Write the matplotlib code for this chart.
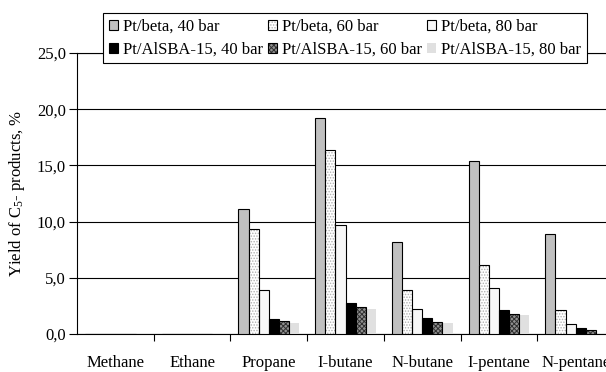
import numpy as np
import matplotlib
matplotlib.use('Agg')
import matplotlib.pyplot as plt
from matplotlib.patches import Patch

plt.rcParams['font.family'] = ['Liberation Serif', 'DejaVu Serif']
plt.rcParams['mathtext.fontset'] = 'custom'
plt.rcParams['mathtext.rm'] = 'Liberation Serif'
plt.rcParams['mathtext.it'] = 'Liberation Serif'
plt.rcParams['font.size'] = 12
plt.rcParams['hatch.linewidth'] = 0.7

# data
products = ['Methane', 'Ethane', 'Propane', 'I-butane', 'N-butane', 'I-pentane', 'N-pentane']
beta_40 = [0.0, 0.0, 11.1, 19.2, 8.2, 15.4, 8.9]
beta_60 = [0.0, 0.0, 9.3, 16.4, 3.9, 6.1, 2.1]
beta_80 = [0.0, 0.0, 3.9, 9.7, 2.2, 4.1, 0.9]
alsba_40 = [0.0, 0.0, 1.3, 2.8, 1.4, 2.1, 0.5]
alsba_60 = [0.0, 0.0, 1.2, 2.4, 1.1, 1.8, 0.4]
alsba_80 = [0.0, 0.0, 1.0, 2.2, 1.0, 1.7, 0.1]

series = [
    ('Pt/beta, 40 bar', beta_40, dict(facecolor='#c0c0c0', edgecolor='black')),
    ('Pt/beta, 60 bar', beta_60, dict(facecolor='white', edgecolor='#b0b0b0', hatch='......')),
    ('Pt/beta, 80 bar', beta_80, dict(facecolor='#f7f7f7', edgecolor='black')),
    ('Pt/AlSBA-15, 40 bar', alsba_40, dict(facecolor='black', edgecolor='black')),
    ('Pt/AlSBA-15, 60 bar', alsba_60, dict(facecolor='#909090', edgecolor='#303030', hatch='xxxxxxx')),
    ('Pt/AlSBA-15, 80 bar', alsba_80, dict(facecolor='#e0e0e0', edgecolor='none')),
]

fig = plt.figure(figsize=(6.06, 3.72), dpi=100)
ax = fig.add_axes([77/606, 38/372, 537/606, 281/372])

x = np.arange(len(products))
w = 0.132
handles = []
for i, (name, vals, st) in enumerate(series):
    pos = x - 2.5*w + i*w
    if 'hatch' in st:
        ax.bar(pos, vals, w, facecolor=st['facecolor'], edgecolor=st['edgecolor'],
               hatch=st['hatch'], linewidth=0, zorder=3)
        ax.bar(pos, vals, w, fill=False, edgecolor='black', linewidth=0.8, zorder=4)
        handles.append((Patch(facecolor=st['facecolor'], edgecolor=st['edgecolor'],
                              hatch=st['hatch'], linewidth=0),
                        Patch(fill=False, edgecolor='black', linewidth=0.8), name))
    else:
        lw = 0 if st['edgecolor'] == 'none' else 0.8
        ax.bar(pos, vals, w, facecolor=st['facecolor'], edgecolor=st['edgecolor'],
               linewidth=lw, zorder=3)
        handles.append((Patch(facecolor=st['facecolor'], edgecolor=st['edgecolor'],
                              linewidth=lw), None, name))

ax.set_xlim(-0.5, 6.5)
ax.set_ylim(0, 25)
yt = np.arange(0, 26, 5)
ax.set_yticks(yt)
ax.set_yticklabels([('%.1f' % v).replace('.', ',') for v in yt])
ax.yaxis.grid(True, color='black', linewidth=0.8, zorder=0)
ax.set_axisbelow(True)
ax.set_xticks(x)
ax.set_xticklabels(products)
ax.set_xticks(np.arange(0.5, 6.5, 1), minor=True)
ax.tick_params(axis='x', which='major', length=0, pad=15)
ax.tick_params(axis='x', which='minor', length=5, width=0.8)
ax.tick_params(axis='y', length=6, width=0.8, pad=2)
for s in ['top', 'right']:
    ax.spines[s].set_visible(False)
ax.spines['left'].set_linewidth(0.8)
ax.spines['bottom'].set_linewidth(0.8)
ax.axhline(25, color='black', linewidth=0.8, clip_on=False, zorder=0)
ax.set_ylabel('Yield of C$_{5}$- products, %', labelpad=7)

# legend, rows: Pt/beta on top, Pt/AlSBA-15 below
order = [0, 3, 1, 4, 2, 5]
hs, ls = [], []
for k in order:
    p, o, name = handles[k]
    hs.append((p, o) if o is not None else p)
    ls.append(name)
leg = fig.legend(hs, ls, ncol=3, loc='upper left', bbox_to_anchor=(103/606, 1 - 13/372),
                 frameon=True, fancybox=False, edgecolor='black', framealpha=1,
                 handlelength=0.55, handleheight=0.55, handletextpad=0.3,
                 columnspacing=0.3, borderpad=0.35, labelspacing=0.4, borderaxespad=0)
leg.get_frame().set_linewidth(0.8)

fig.savefig('out.png', dpi=100)
